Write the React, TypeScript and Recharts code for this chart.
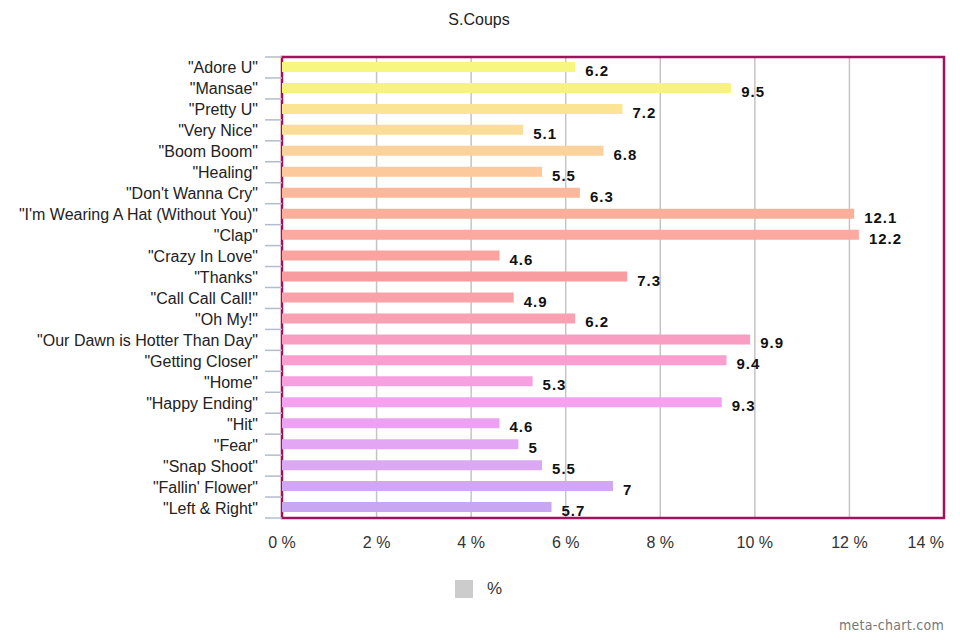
import { BarChart, Bar, XAxis, YAxis, CartesianGrid, Cell, LabelList, ReferenceArea } from "recharts";

const songs = [
  '"Adore U"',
  '"Mansae"',
  '"Pretty U"',
  '"Very Nice"',
  '"Boom Boom"',
  '"Healing"',
  '"Don\'t Wanna Cry"',
  '"I\'m Wearing A Hat (Without You)"',
  '"Clap"',
  '"Crazy In Love"',
  '"Thanks"',
  '"Call Call Call!"',
  '"Oh My!"',
  '"Our Dawn is Hotter Than Day"',
  '"Getting Closer"',
  '"Home"',
  '"Happy Ending"',
  '"Hit"',
  '"Fear"',
  '"Snap Shoot"',
  '"Fallin\' Flower"',
  '"Left & Right"',
];

const shares = [6.2, 9.5, 7.2, 5.1, 6.8, 5.5, 6.3, 12.1, 12.2, 4.6, 7.3, 4.9, 6.2, 9.9, 9.4, 5.3, 9.3, 4.6, 5, 5.5, 7, 5.7];

const barColors = [
  "#f7f77f", "#f8f282", "#fbe594", "#fbdc99", "#fcd29c", "#fcc99c",
  "#fbb89b", "#fbae9b", "#fca9a0", "#fba39e", "#f99ca0", "#f9a2aa",
  "#f9a1b3", "#f99ec2", "#f99fd0", "#f8a0df", "#f4a2ef", "#eca2f3",
  "#e3a6f4", "#dba8f4", "#d3a6f4", "#c9a6f2",
];

const xTicks = [0, 2, 4, 6, 8, 10, 12, 14];

const data = songs.map((name, i) => ({ name, value: shares[i] }));

const FONT = "'Liberation Sans', Arial, sans-serif";

// category label plus the little tick marks between bands
const SongTick = (props: any) => {
  const { x, y, payload, index } = props;
  const half = 461 / songs.length / 2;
  const ax = x + 2; // axis position
  return (
    <g>
      <line x1={ax - 17} x2={ax} y1={y - half} y2={y - half} stroke="#b3bccb" strokeWidth={1.5} />
      {index === songs.length - 1 && (
        <line x1={ax - 17} x2={ax} y1={y + half} y2={y + half} stroke="#b3bccb" strokeWidth={1.5} />
      )}
      <text x={ax - 24} y={y} dy={6} textAnchor="end" fill="#222" fontSize={16} fontFamily={FONT}>
        {payload.value}
      </text>
    </g>
  );
};

// percent ticks; the last one is pulled inside the page
const PercentTick = (props: any) => {
  const { x, y, payload, index } = props;
  const last = index === xTicks.length - 1;
  return (
    <text
      x={x}
      y={y}
      dy={12}
      textAnchor={last ? "end" : "middle"}
      fill="#333"
      fontSize={16}
      fontFamily={FONT}
    >
      {`${payload.value} %`}
    </text>
  );
};

const ValueLabel = (props: any) => {
  const { x, y, width, height, value } = props;
  return (
    <text
      x={x + width + 10}
      y={y + height / 2 + 9}
      fill="#111"
      fontSize={15}
      fontWeight="bold"
      fontFamily={FONT}
      letterSpacing={1}
    >
      {value}
    </text>
  );
};

export default function App() {
  return (
    <div style={{ position: "absolute", left: 0, top: 0, width: 960, height: 640, background: "#fff", fontFamily: FONT }}>
      <div style={{ position: "absolute", top: 11, left: 0, width: 958, textAlign: "center", fontSize: 16, color: "#222" }}>
        S.Coups
      </div>
      <BarChart
        width={960}
        height={640}
        layout="vertical"
        data={data}
        margin={{ top: 57, right: 16, bottom: 92, left: 0 }}
        barCategoryGap={0}
      >
        <CartesianGrid horizontal={false} vertical stroke="#c4c4c4" strokeWidth={1.5} />
        <XAxis
          type="number"
          domain={[0, 14]}
          ticks={xTicks}
          axisLine={false}
          tickLine={false}
          tickSize={6}
          tickMargin={12}
          height={30}
          tick={<PercentTick />}
        />
        <YAxis
          type="category"
          dataKey="name"
          width={282}
          interval={0}
          axisLine={false}
          tickLine={false}
          tickSize={0}
          tick={<SongTick />}
        />
        <Bar dataKey="value" barSize={10} isAnimationActive={false}>
          {data.map((d, i) => (
            <Cell key={d.name} fill={barColors[i]} />
          ))}
          <LabelList dataKey="value" content={<ValueLabel />} />
        </Bar>
        <ReferenceArea x1={0} x2={14} fill="none" stroke="#a3115e" strokeWidth={2.5} ifOverflow="visible" />
      </BarChart>
      <div style={{ position: "absolute", left: 455, top: 580, width: 18, height: 18, background: "#cccccc" }} />
      <div style={{ position: "absolute", left: 487, top: 579, fontSize: 17, color: "#333" }}>%</div>
      <div
        style={{
          position: "absolute",
          right: 16,
          top: 617,
          fontSize: 14,
          color: "#777",
          fontFamily: "'DejaVu Sans Condensed', 'DejaVu Sans', sans-serif",
          letterSpacing: 0.3,
        }}
      >
        meta-chart.com
      </div>
    </div>
  );
}
